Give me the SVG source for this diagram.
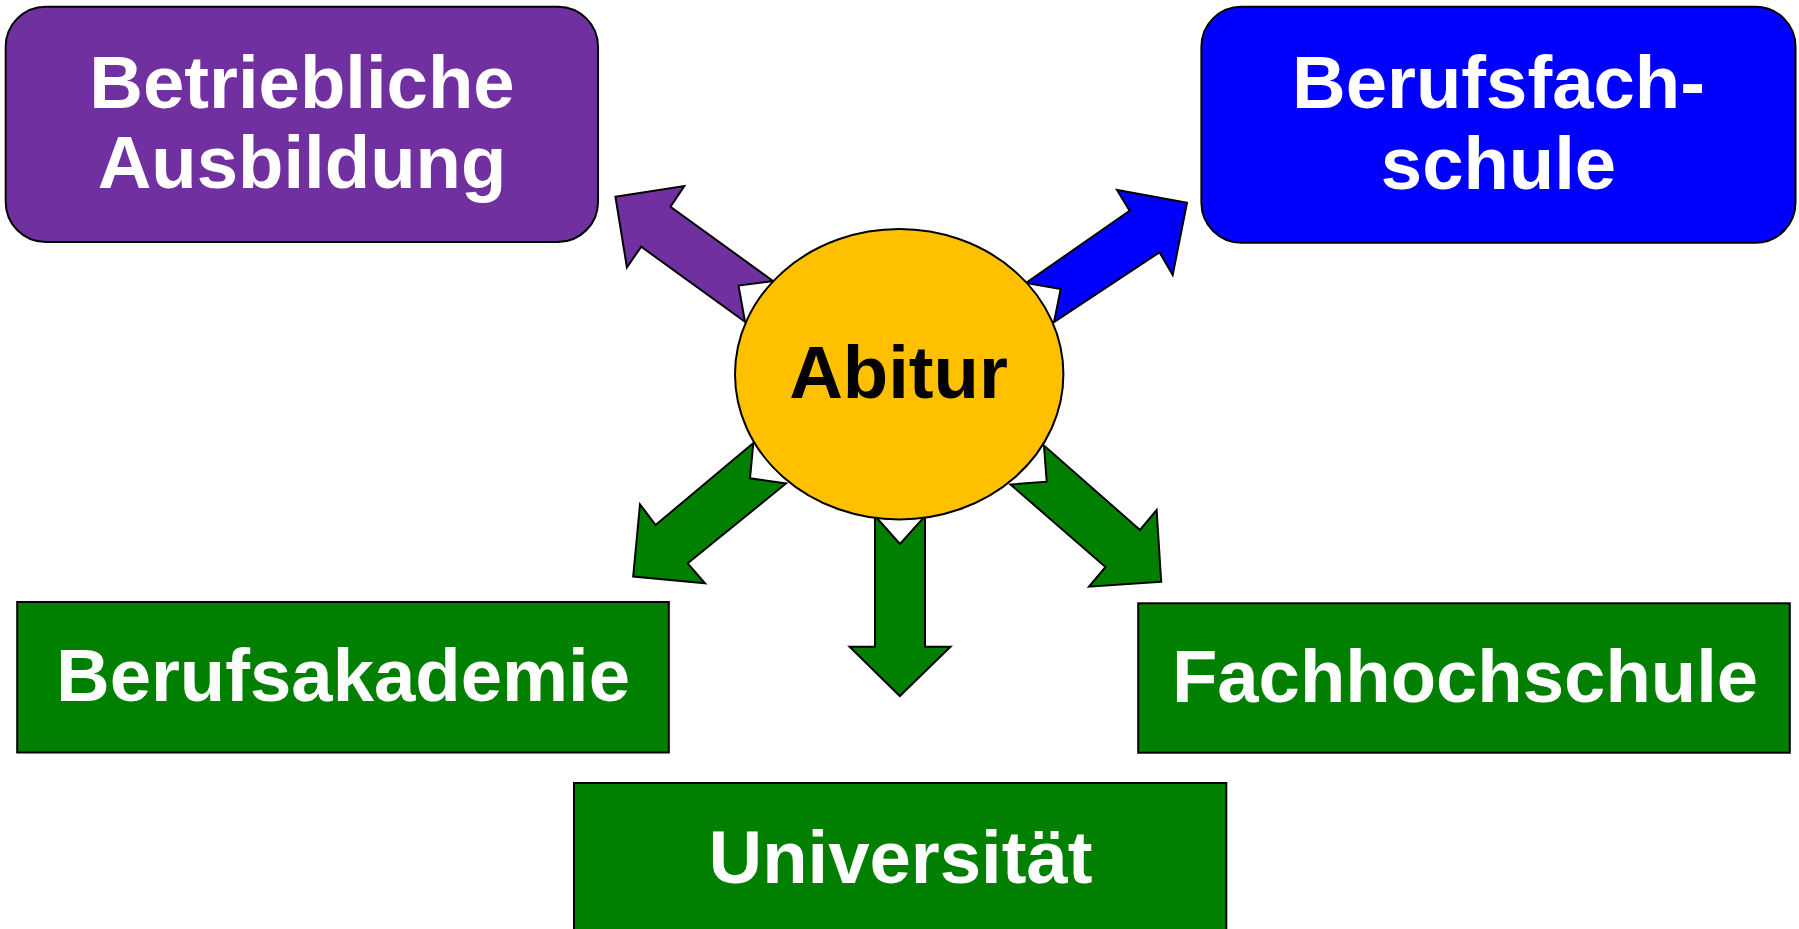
<svg xmlns="http://www.w3.org/2000/svg" width="1799" height="929" viewBox="0 0 1799 929">
<style>
.box{stroke:#000;stroke-width:2}
.lbl{font-family:"Liberation Sans",Arial,sans-serif;font-weight:bold;font-size:74.3px;fill:#fff;text-anchor:middle}
.arr{stroke:#000;stroke-width:2;stroke-linejoin:miter}
.purple{fill:#7030A0}
.blue{fill:#0000FF}
.green{fill:#007F00}
</style>
<rect width="1799" height="929" fill="#fff"/>
<g id="connectors">
<polygon class="arr purple" points="615.4,196.7 684.3,186 670.5,206.7 773,281 738.5,285.5 745,321.8 641.2,246.7 626.9,267.3"/>
<polygon class="arr blue" points="1187,202.7 1117,190 1129.6,210.7 1026,283 1060.7,289 1054,322.2 1159.5,252.3 1172.7,275"/>
<polygon class="arr green" points="633.2,576.5 640,504.3 655.6,525 753.3,443 750,478.3 786,483.5 687.7,563.3 705,583.3"/>
<polygon class="arr green" points="1161.2,581.7 1089,586.7 1105.5,567 1010.5,484.5 1046.7,481.7 1044,445.5 1140,530 1156.6,510"/>
<polygon class="arr green" points="875,516 900,544 925,516 925,646.7 950.5,646.7 899.8,696 849.6,646.7 875,646.7"/>
</g>
<g id="abitur">
<ellipse cx="899.2" cy="374.3" rx="164.2" ry="145.2" fill="#FFC000" stroke="#000" stroke-width="2"/>
<text x="898.5" y="398.3" class="lbl" style="fill:#000">Abitur</text>
</g>
<g id="betriebliche">
<rect class="box" x="5.7" y="6.7" width="592.3" height="235.3" rx="40" ry="40" fill="#7030A0"/>
<text x="302" y="108.3" class="lbl">Betriebliche</text>
<text x="302" y="188.3" class="lbl">Ausbildung</text>
</g>
<g id="berufsfachschule">
<rect class="box" x="1201.4" y="6.7" width="594.1" height="236" rx="40" ry="40" fill="#0000FF"/>
<text x="1498.5" y="108.3" class="lbl">Berufsfach-</text>
<text x="1498.5" y="189.3" class="lbl">schule</text>
</g>
<g id="berufsakademie">
<rect class="box" x="17.2" y="602" width="651.6" height="150.5" fill="#007F00"/>
<text x="343" y="701" class="lbl">Berufsakademie</text>
</g>
<g id="fachhochschule">
<rect class="box" x="1138.2" y="603.3" width="651.6" height="149.4" fill="#007F00"/>
<text x="1465" y="701.7" class="lbl">Fachhochschule</text>
</g>
<g id="universitaet">
<rect class="box" x="574" y="783" width="652.3" height="151" fill="#007F00"/>
<text x="900.5" y="883" class="lbl">Universität</text>
</g>
</svg>
